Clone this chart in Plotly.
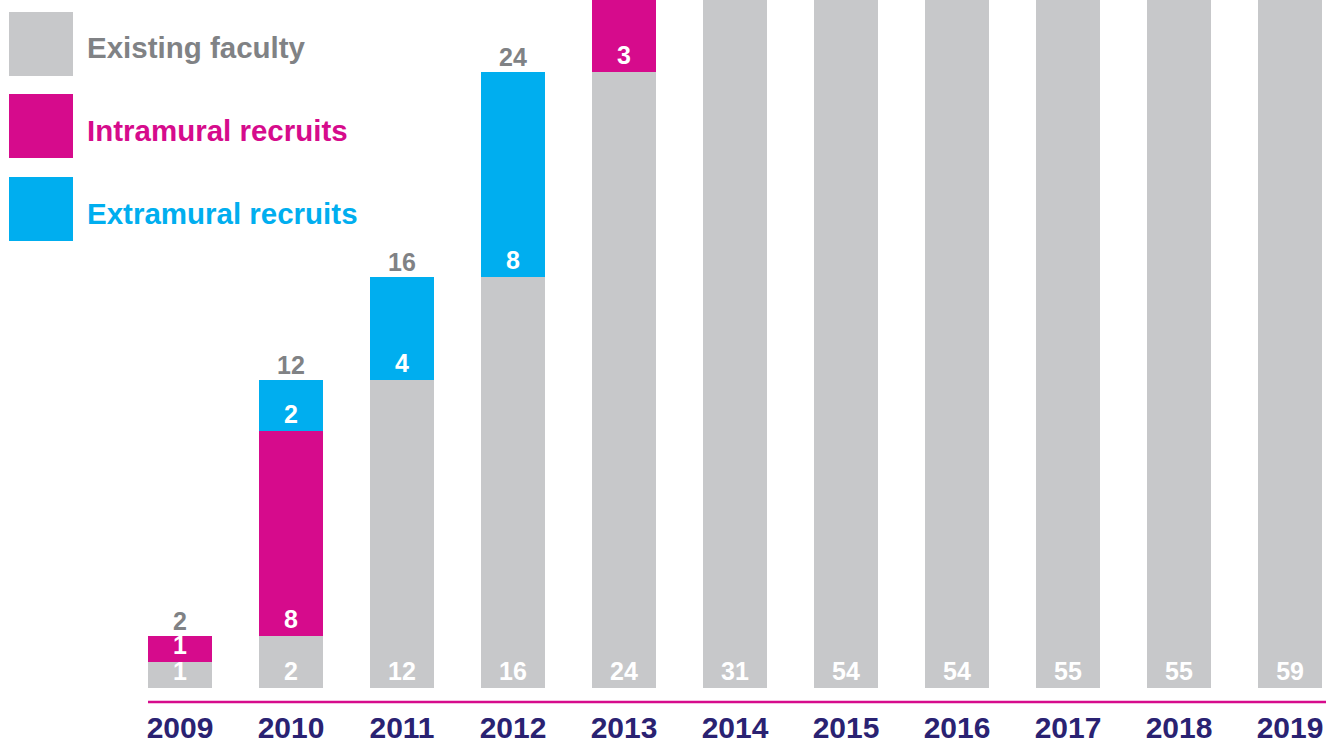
import plotly.graph_objects as go

# ---- data ----
years = ["2009", "2010", "2011", "2012", "2013", "2014", "2015", "2016", "2017", "2018", "2019"]
existing = [1, 2, 12, 16, 24, 31, 54, 54, 55, 55, 59]
intramural = [1, 8, None, None, 3, None, None, None, None, None, None]
extramural = [None, 2, 4, 8, None, None, None, None, None, None, None]

series_names = ["Existing faculty", "Intramural recruits", "Extramural recruits"]
series_colors = ["#c7c8ca", "#d60b8c", "#00aeef"]
legend_text_colors = ["#808285", "#d60b8c", "#00aeef"]
total_color = "#808285"
year_color = "#2a2272"
axis_line_color = "#d60b8c"

FONT = "Liberation Sans"
W, H = 1326, 741
PLOT_H = 706            # plot area height in px (margin top 0)
Y_MIN, Y_MAX = -0.721, 26.80
X_MIN, X_MAX = -1.6216, 10.324
BAR_FRAC = 0.5766

fig = go.Figure()
for name, vals, col in zip(series_names, [existing, intramural, extramural], series_colors):
    fig.add_trace(go.Bar(
        x=years, y=vals, name=name,
        marker=dict(color=col, line=dict(width=0)),
        text=[("" if v is None else str(v)) for v in vals],
        textposition="inside", insidetextanchor="start", textangle=0,
        textfont=dict(family=FONT, size=25, color="white", weight=700),
        hoverinfo="skip", showlegend=False,
    ))

# totals above bars (only those within the visible range)
annotations = []
for i, yr in enumerate(years):
    tot = sum(v for v in (existing[i], intramural[i], extramural[i]) if v is not None)
    has_recruits = any(v is not None for v in (intramural[i], extramural[i]))
    if has_recruits and tot < Y_MAX - 0.5:
        annotations.append(dict(
            x=i, y=tot, xref="x", yref="y", text=str(tot), showarrow=False,
            yanchor="bottom", xanchor="center", yshift=-1,
            font=dict(family=FONT, size=25, color=total_color, weight=700),
        ))

# legend drawn as squares + labels
shapes = []
sq_tops = [12, 94, 177]
sq_size = 64
for name, col, tcol, top in zip(series_names, series_colors, legend_text_colors, sq_tops):
    shapes.append(dict(
        type="rect", xref="paper", yref="paper",
        x0=9 / W, x1=(9 + sq_size) / W,
        y0=1 - (top + sq_size) / PLOT_H, y1=1 - top / PLOT_H,
        fillcolor=col, line=dict(width=0), layer="above",
    ))
    annotations.append(dict(
        x=85 / W, y=1 - (top + sq_size / 2 + 4) / PLOT_H, xref="paper", yref="paper",
        text=name, showarrow=False, xanchor="left", yanchor="middle",
        font=dict(family=FONT, size=29.5, color=tcol, weight=700),
    ))

# magenta baseline starting at the first bar's left edge
line_y = Y_MIN + (706 - 702) / PLOT_H * (Y_MAX - Y_MIN)
shapes.append(dict(
    type="line", xref="x", yref="y",
    x0=-BAR_FRAC / 2, x1=X_MAX, y0=line_y, y1=line_y,
    line=dict(color=axis_line_color, width=2.5), layer="above",
))

fig.update_layout(
    width=W, height=H,
    margin=dict(l=0, r=0, t=0, b=H - PLOT_H, autoexpand=False),
    barmode="stack", bargap=1 - BAR_FRAC,
    plot_bgcolor="white", paper_bgcolor="white",
    uniformtext=dict(minsize=25, mode="show"),
    shapes=shapes, annotations=annotations,
    showlegend=False,
)
fig.update_xaxes(
    type="category", range=[X_MIN, X_MAX], automargin=False,
    showgrid=False, zeroline=False, showline=False, ticks="",
    tickfont=dict(family=FONT, size=30, color=year_color, weight=700),
    ticklabelstandoff=1,
)
fig.update_yaxes(
    range=[Y_MIN, Y_MAX], showgrid=False, zeroline=False, showline=False,
    showticklabels=False, ticks="", automargin=False,
)

fig.write_html("out.html")
